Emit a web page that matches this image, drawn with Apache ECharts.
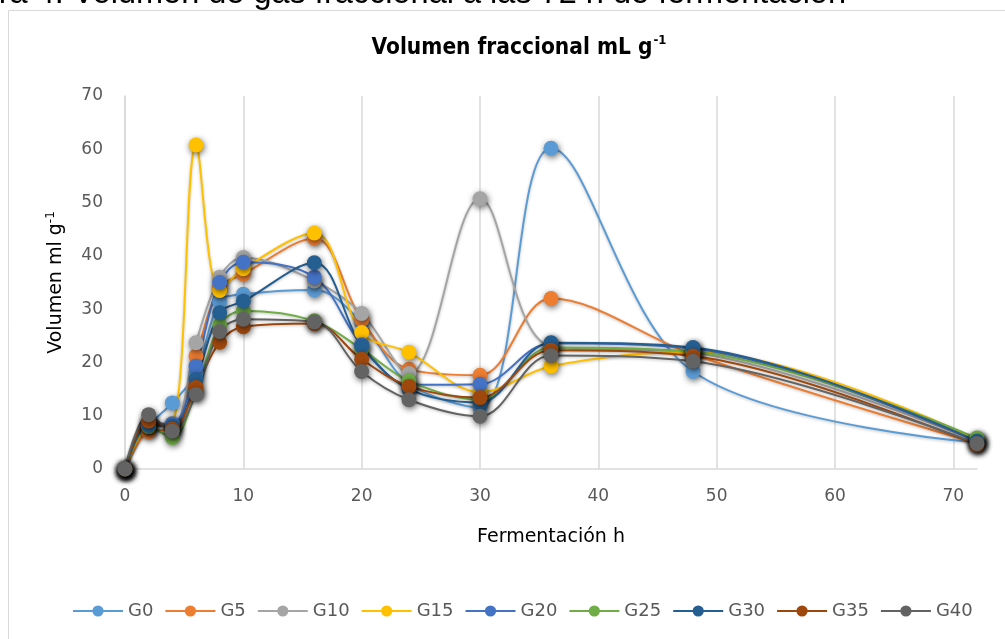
<!DOCTYPE html>
<html>
<head>
<meta charset="utf-8">
<script src="https://cdn.jsdelivr.net/npm/echarts@6/dist/echarts.min.js"></script>
<style>
html,body{margin:0;padding:0;background:#fff;}
#chart{width:1005px;height:639px;}
</style>
</head>
<body>
<div id="chart"></div>
<script>
// Data (hours of fermentation vs fractional gas volume, mL g-1)
const hours = [0, 2, 4, 6, 8, 10, 16, 20, 24, 30, 36, 48, 72];
const seriesNames = ['G0', 'G5', 'G10', 'G15', 'G20', 'G25', 'G30', 'G35', 'G40'];
const G0  = [0, 8.0, 12.4, 18.0, 31.4, 32.8, 33.6, 27.5, 16.0, 11.5, 60.2, 18.3, 5.0];
const G5  = [0, 7.0, 7.5, 21.2, 34.0, 36.6, 43.3, 28.0, 18.7, 17.6, 32.0, 21.5, 4.8];
const G10 = [0, 9.0, 8.0, 23.7, 36.0, 39.7, 35.3, 29.2, 17.9, 50.7, 23.0, 21.8, 5.2];
const G15 = [0, 8.0, 8.5, 60.8, 33.5, 37.6, 44.3, 25.6, 21.9, 14.4, 19.3, 22.0, 5.5];
const G20 = [0, 8.5, 8.5, 19.3, 35.0, 38.8, 36.0, 23.3, 15.8, 15.9, 23.6, 22.6, 5.2];
const G25 = [0, 8.0, 5.9, 14.5, 27.0, 29.7, 27.8, 22.5, 16.5, 13.0, 22.8, 22.0, 5.8];
const G30 = [0, 8.2, 8.0, 16.8, 29.3, 31.5, 38.7, 23.1, 15.0, 12.5, 23.7, 22.8, 5.2];
const G35 = [0, 9.0, 7.5, 15.3, 23.8, 26.7, 27.3, 20.6, 15.5, 13.4, 22.3, 21.2, 4.5];
const G40 = [0, 10.2, 7.1, 14.0, 25.8, 28.1, 27.6, 18.3, 13.0, 9.9, 21.3, 20.2, 4.8];
const allValues = [G0, G5, G10, G15, G20, G25, G30, G35, G40];
const colors = ['#5B9BD5', '#ED7D31', '#A5A5A5', '#FFC000', '#4472C4', '#70AD47', '#255E91', '#9E480E', '#636363'];

const chart = echarts.init(document.getElementById('chart'), null, {renderer: 'canvas'});
const labelFont = '"DejaVu Sans", "Open Sans", sans-serif';

const series = seriesNames.map((n, i) => ({
  name: n,
  type: 'line',
  smooth: 0.35,
  data: hours.map((h, j) => [h, allValues[i][j]]),
  symbol: 'circle',
  symbolSize: 15,
  showSymbol: true,
  lineStyle: {width: 2, color: colors[i], shadowBlur: 3, shadowColor: 'rgba(0,0,0,0.25)', shadowOffsetY: 1},
  itemStyle: {color: colors[i], shadowBlur: 6, shadowColor: 'rgba(0,0,0,0.6)', shadowOffsetX: 1, shadowOffsetY: 2},
  emphasis: {disabled: true}
}));

chart.setOption({
  animation: false,
  backgroundColor: '#fff',
  color: colors,
  grid: {left: 125, right: 28, top: 96, bottom: 170},
  graphic: [
    {type: 'rect', shape: {x: 8.5, y: 10.5, width: 1200, height: 800}, style: {fill: 'none', stroke: '#d9d9d9', lineWidth: 1}, z: -1},
    {type: 'text', x: 846, y: 11, style: {text: 'Figura 4. Volumen de gas fraccional a las 72 h de fermentación', align: 'right', verticalAlign: 'bottom', font: '32.5px "Liberation Sans", Arial, sans-serif', fill: '#000'}},
    {type: 'text', x: 519, y: 47, style: {
      text: '{t|Volumen fraccional mL g}{s|-1}',
      align: 'center', verticalAlign: 'middle',
      rich: {
        t: {font: 'bold 22.5px "DejaVu Sans Condensed", "Open Sans", sans-serif', fill: '#000', verticalAlign: 'bottom', lineHeight: 25},
        s: {font: 'bold 13px "DejaVu Sans Condensed", "Open Sans", sans-serif', fill: '#000', verticalAlign: 'top', lineHeight: 25, padding: [0, 0, 12, 1]}
      }
    }}
  ],
  legend: {
    data: seriesNames,
    left: 67,
    top: 597,
    itemWidth: 50,
    itemHeight: 14,
    itemGap: 11,
    textStyle: {color: '#595959', fontSize: 18, fontFamily: labelFont}
  },
  xAxis: {
    type: 'value',
    min: 0, max: 72, interval: 10,
    name: 'Fermentación h',
    nameLocation: 'middle',
    nameGap: 59,
    nameTextStyle: {color: '#000', fontSize: 19, fontFamily: labelFont},
    axisLine: {show: true, lineStyle: {color: '#d9d9d9', width: 1.5}},
    axisTick: {show: false},
    axisLabel: {color: '#595959', fontSize: 17, fontFamily: labelFont, margin: 19, showMaxLabel: false},
    splitLine: {show: true, showMaxLine: false, lineStyle: {color: '#d9d9d9', width: 1.5}}
  },
  yAxis: {
    type: 'value',
    min: 0, max: 70, interval: 10,
    name: '{a|Volumen ml g}{b|-1}',
    nameLocation: 'middle',
    nameGap: 58,
    nameRotate: 90,
    nameTextStyle: {
      rich: {
        a: {color: '#000', fontSize: 19, fontFamily: labelFont},
        b: {color: '#000', fontSize: 12, fontFamily: labelFont, verticalAlign: 'top', padding: [0, 0, 10, 0]}
      }
    },
    axisLine: {show: true, lineStyle: {color: '#d9d9d9', width: 1.5}},
    axisTick: {show: false},
    axisLabel: {color: '#595959', fontSize: 17, fontFamily: labelFont, margin: 22},
    splitLine: {show: false}
  },
  series: series
});
</script>
</body>
</html>
